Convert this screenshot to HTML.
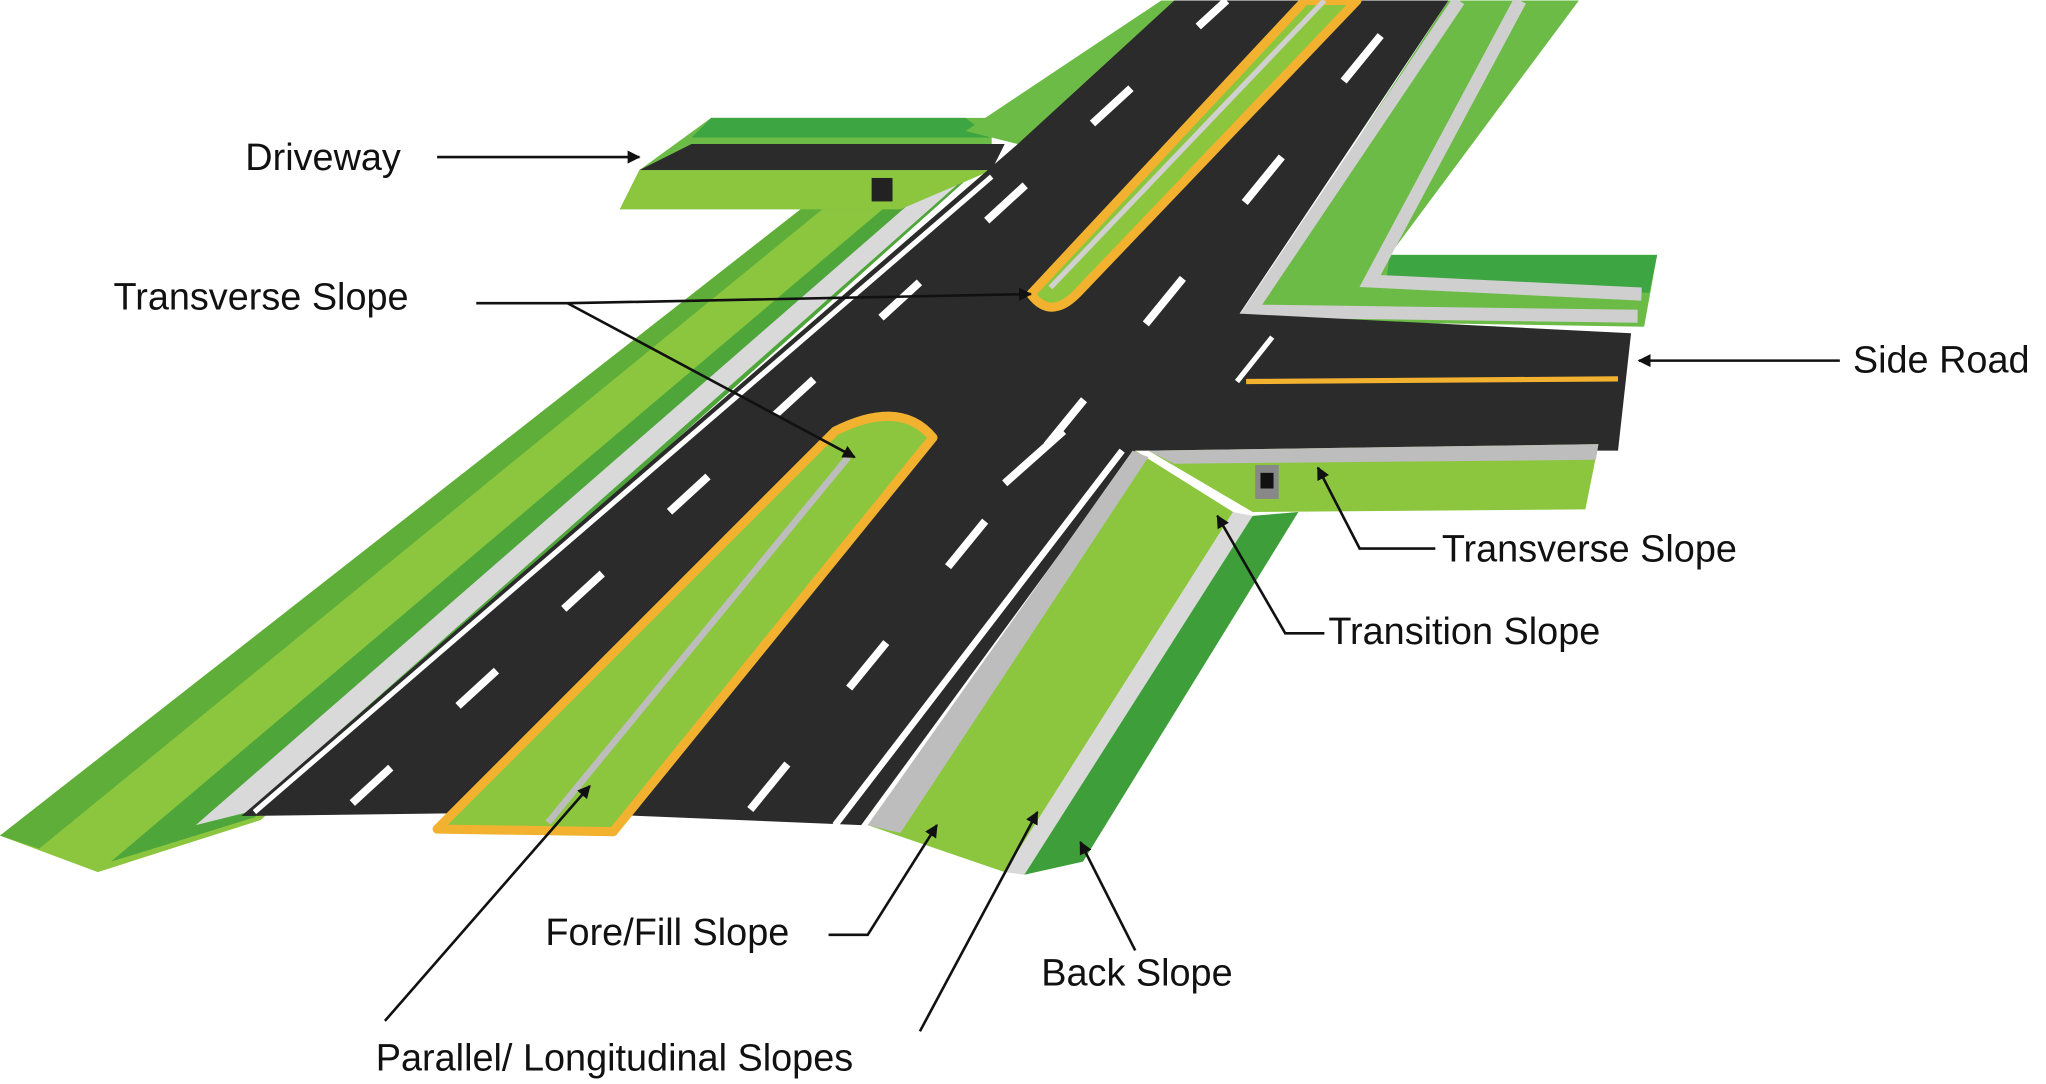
<!DOCTYPE html>
<html><head><meta charset="utf-8"><style>
html,body{margin:0;padding:0;background:#fff;width:2046px;height:1084px;overflow:hidden}
svg{display:block}
text{font-family:"Liberation Sans",sans-serif;font-size:29px;fill:#111}
</style></head><body>
<svg width="2046" height="1084" viewBox="0 0 1568 830" xmlns="http://www.w3.org/2000/svg">
<defs>
<marker id="a" markerWidth="10" markerHeight="10" refX="9" refY="5" orient="auto" markerUnits="userSpaceOnUse" viewBox="0 0 10 10"><path d="M0,0 L10,5 L0,10 z" fill="#111"/></marker>
</defs>
<rect width="1568" height="830" fill="#fff"/>
<!-- left grass -->
<polygon points="0,640 75,668 200,628 730,140 620,155" fill="#8cc63f"/>
<polygon points="0,640 30,650 640,152 620,155" fill="#5fae3a"/>
<polygon points="85,660 195,626 740,138 700,140" fill="#4ea63a"/>
<polygon points="150,632 190,622 735,140 715,140" fill="#d9d9d9"/>
<!-- driveway area -->
<polygon points="475,160 690,160 760,130 760,90 545,90 490,130" fill="#6cbb47"/>
<polygon points="490,130 760,130 770,110 530,110" fill="#2b2b2b"/>
<polygon points="530,105 760,105 740,90 545,90" fill="#3da642"/>
<polygon points="475,160 490,130 760,130 690,160" fill="#8cc63f"/>
<rect x="668" y="136" width="16" height="18" fill="#222"/>
<!-- upper left grass along top -->
<polygon points="740,100 890,0 930,0 780,110" fill="#6cbb47"/>
<!-- upper right grass -->
<polygon points="1110,0 1210,0 1065,195 1270,195 1260,250 950,245" fill="#6cbb47"/>
<polygon points="1065,195 1270,195 1264,224 1062,218" fill="#3da642"/>
<polyline points="1165,0 1050,215 1258,225" fill="none" stroke="#cfcfcf" stroke-width="10"/>
<polyline points="1118,0 958,238 1255,242" fill="none" stroke="#cfcfcf" stroke-width="10"/>
<!-- road asphalt -->
<polygon points="185,625 780,110 900,0 1110,0 950,240 1250,255 1240,345 870,345 660,632 420,622" fill="#2b2b2b"/>
<!-- side road yellow -->
<line x1="955" y1="292" x2="1240" y2="290" stroke="#f2b230" stroke-width="4"/>
<line x1="948" y1="292" x2="975" y2="258" stroke="#fff" stroke-width="4"/>
<!-- right lower grass -->
<polygon points="880,345 1225,340 1215,390 960,392" fill="#8cc63f"/>
<polygon points="880,345 1225,340 1223,352 900,355" fill="#bdbdbd"/>
<rect x="962" y="356" width="18" height="26" fill="#888"/><rect x="966" y="362" width="10" height="12" fill="#111"/>
<polygon points="665,632 770,668 945,392 870,345" fill="#8cc63f"/>
<polygon points="665,632 690,638 880,350 868,345" fill="#bdbdbd"/>
<polygon points="770,668 785,670 960,395 945,392" fill="#d9d9d9"/>
<polygon points="785,670 830,660 995,392 960,395" fill="#3e9e3a"/>
<line x1="640" y1="632" x2="860" y2="345" stroke="#fff" stroke-width="5"/>
<line x1="195" y1="622" x2="760" y2="135" stroke="#fff" stroke-width="4"/>
<!-- lower median -->
<path d="M335,635 L640,330 Q690,305 715,335 L470,637 Z" fill="#8cc63f" stroke="#f2b230" stroke-width="7" stroke-linejoin="round"/>
<path d="M420,630 L650,350" stroke="#bdbdbd" stroke-width="5"/>
<!-- upper median -->
<path d="M790,225 L1000,0 L1040,0 L825,225 Q805,245 790,225 Z" fill="#8cc63f" stroke="#f2b230" stroke-width="7" stroke-linejoin="round"/>
<path d="M805,220 L1015,0" stroke="#d0d0d0" stroke-width="4"/>
<!-- lane dashes -->
<line x1="270" y1="615" x2="940" y2="0" stroke="#fff" stroke-width="6" stroke-dasharray="40,70"/>
<line x1="575" y1="620" x2="1080" y2="0" stroke="#fff" stroke-width="6" stroke-dasharray="45,75"/>
<line x1="770" y1="370" x2="815" y2="330" stroke="#fff" stroke-width="6"/>
<!-- labels -->
<text x="188" y="130">Driveway</text>
<line x1="335" y1="120" x2="490" y2="120" stroke="#111" stroke-width="2" marker-end="url(#a)"/>
<text x="87" y="237">Transverse Slope</text>
<polyline points="365,232 435,232 790,225" fill="none" stroke="#111" stroke-width="2" marker-end="url(#a)"/>
<line x1="435" y1="232" x2="655" y2="350" stroke="#111" stroke-width="2" marker-end="url(#a)"/>
<text x="1420" y="285">Side Road</text>
<line x1="1410" y1="276" x2="1256" y2="276" stroke="#111" stroke-width="2" marker-end="url(#a)"/>
<text x="1105" y="430">Transverse Slope</text>
<polyline points="1100,420 1042,420 1010,358" fill="none" stroke="#111" stroke-width="2" marker-end="url(#a)"/>
<text x="1018" y="493">Transition Slope</text>
<polyline points="1015,485 985,485 933,395" fill="none" stroke="#111" stroke-width="2" marker-end="url(#a)"/>
<text x="418" y="724">Fore/Fill Slope</text>
<polyline points="635,716 665,716 718,632" fill="none" stroke="#111" stroke-width="2" marker-end="url(#a)"/>
<text x="798" y="755">Back Slope</text>
<line x1="870" y1="728" x2="828" y2="645" stroke="#111" stroke-width="2" marker-end="url(#a)"/>
<text x="288" y="820">Parallel/ Longitudinal Slopes</text>
<line x1="295" y1="782" x2="452" y2="602" stroke="#111" stroke-width="2" marker-end="url(#a)"/>
<line x1="705" y1="790" x2="795" y2="622" stroke="#111" stroke-width="2" marker-end="url(#a)"/>
</svg>
</body></html>
